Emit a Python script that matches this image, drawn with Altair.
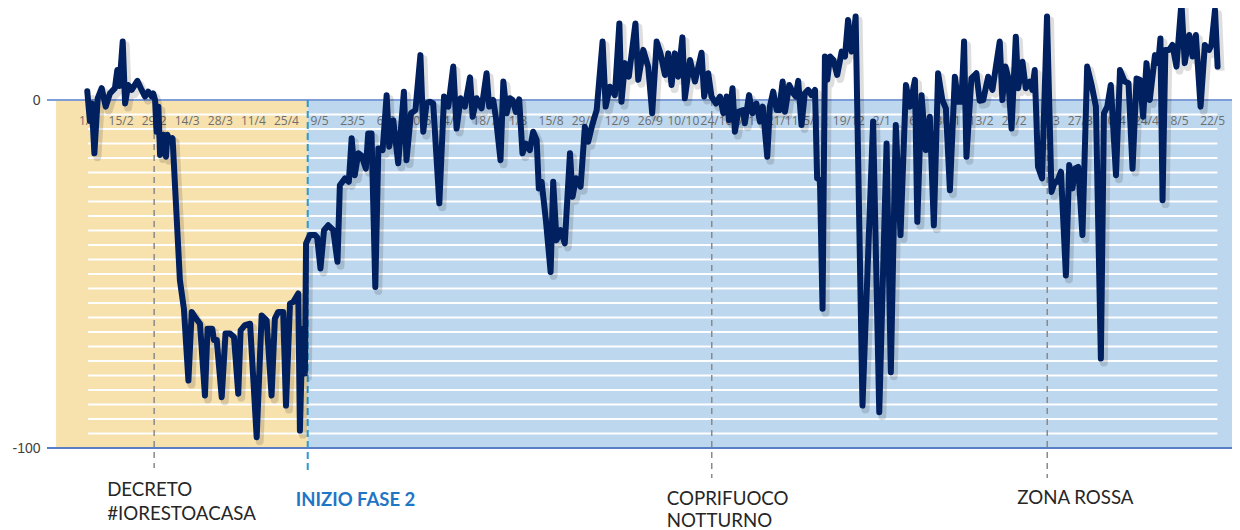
import altair as alt
import pandas as pd

BASE = pd.Timestamp("2020-02-01")

# x-axis tick dates (labels shown as d/m)
tick_dates = ["2020-02-01", "2020-02-15", "2020-02-29", "2020-03-14", "2020-03-28", "2020-04-11",
              "2020-04-25", "2020-05-09", "2020-05-23", "2020-06-06", "2020-06-20", "2020-07-04",
              "2020-07-18", "2020-08-01", "2020-08-15", "2020-08-29", "2020-09-12", "2020-09-26",
              "2020-10-10", "2020-10-24", "2020-11-07", "2020-11-21", "2020-12-05", "2020-12-19",
              "2021-01-02", "2021-01-16", "2021-01-30", "2021-02-13", "2021-02-27", "2021-03-13",
              "2021-03-27", "2021-04-10", "2021-04-24", "2021-05-08", "2021-05-22"]

# series: days since 1 Feb 2020 and % change vs baseline
line_day = [-0.3, 0.8, 1.6, 2.7, 4.1, 5.8, 7.5, 9.3, 11.4, 12.4, 13.3, 14.7, 15.7, 17, 18.5, 20.9, 22.7,
            24.1, 25.5, 27, 27.6, 28.4, 29, 29.8, 30.5, 31.9, 33, 33.6, 34.7, 35.8, 38.9, 40.6, 42.5,
            43.9, 45.3, 47.4, 49.5, 50.6, 52.6, 53.3, 54.5, 56.6, 58.2, 60.1, 61.8, 63.6, 64.6, 66.4,
            68.6, 71.4,
            73.5, 75.6, 77.7, 79.1, 80.5, 82.6, 83.8, 85.5, 86.9, 89, 89.7, 90.8, 91.8, 92.3, 93.9,
            96.1, 97, 98.4, 99.9, 101.7, 103.8, 105.6, 106.6, 108.8, 110.4, 111.6, 112.9, 114.4,
            115.8, 117.6, 118.6, 120, 121.6, 122.9, 124.7, 126.4, 127.5, 129.2, 131.3, 133.7, 134.8,
            136.7, 138.6, 140.7, 141.9, 143.3, 144.7, 146.1, 148.7,
            150.7, 152.5, 154.6, 156, 157.7, 159.5, 161.7, 162.8, 164.5, 166.6, 168.7, 169.8, 171.5,
            172.6, 174.6, 175.8, 177.2, 178.6, 179.7, 181.1, 182.5, 183.9, 185.3, 187, 188.4, 189.9,
            190.8, 192, 193.8, 195.8, 196.9, 198.3, 200, 201.8, 204, 205.1, 206.5, 208.5, 210.3,
            211.7, 213.6, 215.3, 217.8, 219.1, 220.9, 223, 224.9, 225.8, 227.3, 228.9,
            231.7, 232.9, 235, 237.1, 238.8, 240.7, 242.3, 244.2, 245.6, 247, 248.4, 249.8, 251.6,
            252.6, 254.8, 256.9, 259.7, 260.8, 262.5, 263.9, 265.8, 267.5, 268.9, 270.3, 271.3,
            272.8, 273.8, 275.2, 277.3, 278, 279.8, 281.2, 282.9, 284.4, 285.6, 287.5, 288.6, 290,
            291.5, 292.6, 294, 295, 296.8, 298.5, 299.6, 300.6, 302, 303.4, 304.8, 306.2, 307.7,
            308.6, 309.8, 310.9, 311.9, 312.9, 314.1, 315.5, 317.1, 319, 320.4, 321.7, 323.2, 324.2,
            324.9,
            327.8, 332.3, 334.9, 338, 339.8, 341.9, 343.9, 346.2, 347.9, 350, 351, 352.8, 354.6,
            356.3, 358, 359.8, 361.6, 363.1, 364.8, 366.9, 368.3, 369.7, 370.8, 371.8, 373.9, 376,
            377.4, 378.9, 381, 382.8, 384.5, 385.9, 387, 388.3, 389.4, 390.9, 392.7,
            393.7, 395.5, 396.9, 398.6, 399.7, 400.7, 402.1, 403.8, 405.9, 407.8, 409.2, 410.2,
            411.8, 413.9, 415.3, 416.7, 417.7, 419.1, 420.9, 422.9, 424.8, 426.6, 428.7, 430, 431.4,
            432.9, 435.1, 436.8, 438.8, 440.4, 442.1, 443.8, 445.2, 446.6, 448, 449.4, 451.6, 453,
            453.9, 454.8, 456, 457.6, 459, 460.7, 462.8, 464.2, 466.1, 467.5, 468.9, 470.9, 472.7,
            474.5, 475.5, 477, 478.1]
line_value = [2.5, -6, -1, -15.3, 0.5, 3.4, -1.9, 1.9, 3.4, 8.6, 4, 16.8, -1, 4.3, 2.9, 5.5, 2.9,
              1, 2.4, 1, 1.9, 0, -9.1, -1.9, -15.8, -10, -16.3, -10, -12, -11, -51.8, -60, -80.6,
              -60.9, -62.4, -64.3, -84.9, -65.7, -65.7, -69, -69, -85.4, -67.1, -67.1, -68.1, -84.4,
              -66.2, -64.7, -64.3, -96.9,
              -61.9, -63.3, -84.9, -62.8, -60.9, -60.9, -87.8, -58.5, -58, -55.6, -95, -65.7, -78.6,
              -41.2, -38.8, -38.8, -39.5, -48.4, -37.4, -36, -37.4, -46.5, -24.5, -22.5, -23.5, -11,
              -21.6, -15.3, -16, -19.7, -9.6, -9.6, -53.7, -13.9, -14.4, 1.4, -13.4, -5.8, -18.2,
              2.4, -17.3, -3.8, -2.9, 12.9, -9.1, -1, -0.5, -1, -29.7,
              1, -1.9, 9.6, -8.2, 0.5, -1.9, 6.5, -4.8, 0.5, -2.4, 7.7, -1.9, 0, -4.8, -17.3, 5.3,
              -3.8, 0.5, 0, -3.4, 0.2, -15.3, -12.5, -14.4, -9.1, -11.5, -25.4, -23.5, -34.5, -49.4,
              -23.5, -40.3, -37.4, -41.2, -15.3, -27.8, -22.5, -24.9, -7.7, -12, -6.7, -2.9, 16.8,
              -1.9, 3.8, 1.4, 22, -0.5, 10.6, 6.7,
              22, 5.8, 14.4, 9.6, -3.8, 16.8, 13.4, 7.2, 13.4, 4.3, 13.4, 6.7, 18, 0.5, 11.5, 5.3,
              13.6, 1, 7.7, 1, -1, 1, -3.8, 1, -5.8, 3.4, -9.1, -3.4, -2.9, -6.7, 1.4, -3.8, -1,
              -6.2, -1.9, -16.3, -1.9, 2.4, -2.9, -2.9, 5.3, -3.4, 4.3, 1.9, 1, 5.5, -7.2, 1.9, 2.9,
              1.4, 2.9, -22.5, -23, -60, 12.5, 5.8, 12.5, 11.5, 7.2, 13.9, 12.5, 23, 13.9, 19, 24,
              -87.8, -6.2, -89.7, -12.5, -78.2, -7.2, -38.8, 4.3, -1.9, 5.8, -35, 1.4, -14.4, -4.8,
              -36, 7.7, 0, -2.4, -25.9, 6.7, -0.5, -0.5, 16.8, -16.3, 6.2, 7.7, -0.2, 0, 6.7, 2.9,
              10.6, 16.8, 0, 9.6, 6.7, -8.2, 18.2,
              3.4, 11, 3.4, 5.3, 2.9, 8.6, -19.2, -22.5, 24, -26.4, -23.5, -23.5, -20.6, -50.4,
              -18.7, -25.4, -19.7, -19.2, -38.8, 9.6, 4.3, -1.9, -74.3, -3.8, -1.9, 4.3, -21.6, 8.6,
              5.3, 4.8, -19.7, 6.2, 5.8, -4.8, 10.6, 0, 12.9, 10.6, 17.7, -28.8, 14.4, 14.4, 15.8,
              9.6, 28, 10.6, 18.7, 12.5, 18.7, -1.9, 15.8, 14.4, 15.8, 25.9, 9.6]

# background periods
period_start = ["2020-01-18T12:00", "2020-05-04"]
period_color = ["#F7E1AD", "#BDD7EE"]
stripes_start = "2020-02-01"
stripes_end = "2021-05-24"

# y-axis labels
y_ticks = [0, -100]

# events
event_dates = ["2020-02-29", "2020-05-04", "2020-10-22", "2021-03-13"]
event_labels = ["DECRETO\n#IORESTOACASA", "INIZIO FASE 2", "COPRIFUOCO\nNOTTURNO", "ZONA ROSSA"]

# ---------------- layout / style ----------------
W, H = 1185, 440
XDOM = [-17.35, 484.2]
YDOM = [-100, 26.44]


def day(s):
    return (pd.Timestamp(s) - BASE) / pd.Timedelta(days=1)


xs = alt.Scale(domain=XDOM, nice=False, zero=False)
ys = alt.Scale(domain=YDOM, nice=False, zero=False)
yaxis = alt.Axis(values=y_ticks, ticks=False, domain=False, grid=False, labelPadding=7,
                 labelFontSize=14, labelColor="#404040", labelFont="Liberation Sans", title=None,
                 labelExpr="datum.value < 0 ? '-' + abs(datum.value) : '' + datum.value")


def Y(field):
    return alt.Y(field, scale=ys, axis=yaxis)


def X(field):
    return alt.X(field, scale=xs, axis=None)


line_df = pd.DataFrame({"day": line_day, "value": line_value})
tick_df = pd.DataFrame({"day": [day(d) for d in tick_dates],
                        "label": [f"{pd.Timestamp(d).day}/{pd.Timestamp(d).month}" for d in tick_dates]})

yellow = alt.Chart(pd.DataFrame({"x0": [day(period_start[0])], "x1": [day(period_start[1])],
                                 "y0": [0], "y1": [-100]})).mark_rect(
    color=period_color[0]).encode(x=X("x0:Q"), x2="x1:Q", y=Y("y0:Q"), y2="y1:Q")

blue = alt.Chart(pd.DataFrame({"x0": [day(period_start[1])], "y0": [0], "y1": [-100]})).mark_rect(
    color=period_color[1]).encode(x=X("x0:Q"), x2=alt.value(W), y=Y("y0:Q"), y2="y1:Q")

stripe_df = pd.DataFrame({"y0": [-100 * k / 24 for k in range(1, 24)],
                          "x0": day(stripes_start), "x1": day(stripes_end)})
stripes = alt.Chart(stripe_df).mark_rule(color="white", strokeWidth=1.8).encode(
    x=X("x0:Q"), x2="x1:Q", y=Y("y0:Q"))

base_rules = alt.Chart(pd.DataFrame({"y0": y_ticks, "c": ["#7F9DD6", "#5A7EC6"]})).mark_rule(
    strokeWidth=2).encode(
    x=alt.value(0), x2=alt.value(W), y=Y("y0:Q"), color=alt.Color("c:N", scale=None))

ticks = alt.Chart(tick_df).mark_text(fontSize=12, font="Open Sans", color="#6E6E6E",
                                     baseline="middle").encode(
    x=X("day:Q"), y=alt.value(113), text="label:N")

event_styles = [
    dict(color="#8A8A8A", y2=460, dash=[6, 5], width=1.5),
    dict(color="#2B9ACF", y2=462, dash=[7, 4], width=2),
    dict(color="#8A8A8A", y2=470, dash=[6, 5], width=1.5),
    dict(color="#8A8A8A", y2=470, dash=[6, 5], width=1.5),
]
text_styles = [
    dict(dx=-47, y=488, size=18.7, weight="normal", color="#262626", lh=24),
    dict(dx=-12, y=498, size=18.5, weight="bold", color="#1F76C5", lh=22),
    dict(dx=-45, y=497, size=18.7, weight="normal", color="#262626", lh=22),
    dict(dx=-30, y=496, size=18.7, weight="normal", color="#262626", lh=22),
]

event_lines = []
event_texts = []
for d, lab, es, ts in zip(event_dates, event_labels, event_styles, text_styles):
    edf = pd.DataFrame({"day": [day(d)], "label": [lab]})
    event_lines.append(
        alt.Chart(edf).mark_rule(color=es["color"], strokeDash=es["dash"],
                                 strokeWidth=es["width"]).encode(
            x=X("day:Q"), y=alt.value(92), y2=alt.value(es["y2"])))
    event_texts.append(
        alt.Chart(edf).mark_text(align="left", baseline="alphabetic", dx=ts["dx"],
                                 fontSize=ts["size"], fontWeight=ts["weight"], font="Lato",
                                 color=ts["color"], lineBreak="\n", lineHeight=ts["lh"]).encode(
            x=X("day:Q"), y=alt.value(ts["y"]), text="label:N"))

shadow = alt.Chart(line_df).mark_line(color="#000000", opacity=0.13, strokeWidth=8,
                                      xOffset=3, yOffset=4, strokeJoin="round").encode(
    x=X("day:Q"), y=Y("value:Q"))

line = alt.Chart(line_df).mark_line(color="#002060", strokeWidth=6, strokeJoin="round",
                                    strokeCap="round").encode(
    x=X("day:Q"), y=Y("value:Q"))

chart = alt.layer(yellow, blue, stripes, base_rules, *event_lines, ticks, shadow, line,
                  *event_texts).properties(
    width=W, height=H,
    padding={"left": 39, "top": 0, "right": 0, "bottom": 82},
    autosize=alt.AutoSizeParams(type="none"),
).configure_view(stroke=None)

chart.save("out.html", embed_options={"renderer": "svg", "actions": False})
